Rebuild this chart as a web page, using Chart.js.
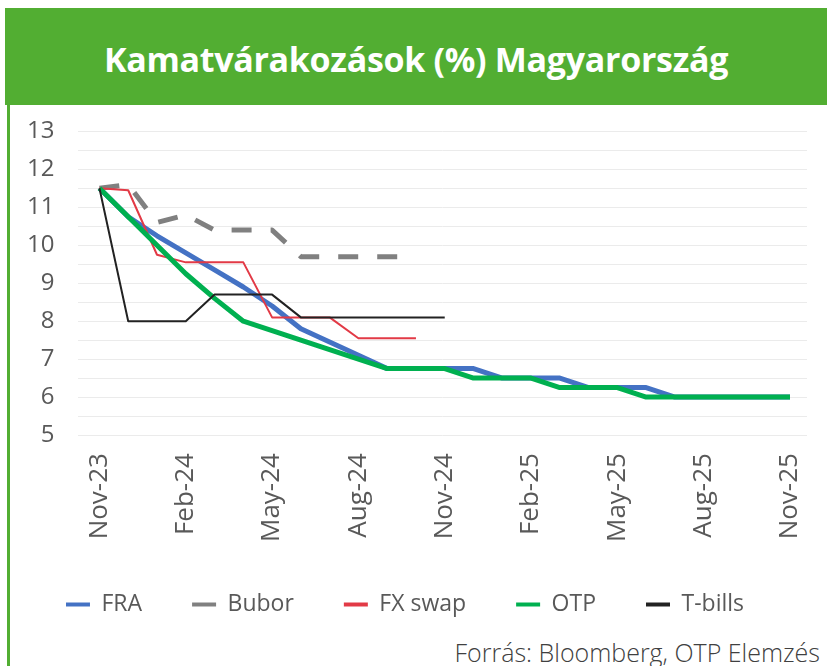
<!DOCTYPE html>
<html>
<head>
<meta charset="utf-8">
<script src="https://cdn.jsdelivr.net/npm/chart.js@4.4.1/dist/chart.umd.min.js"></script>
<style>
  html, body { margin: 0; padding: 0; background: #fff; }
  body { width: 827px; height: 666px; position: relative; overflow: hidden; }
  #fejlec {
    position: absolute; left: 5px; top: 8px; width: 822px; height: 92px; padding-top: 5px;
    background: #52ae32; color: #fff;
    font-family: 'Open Sans', sans-serif; font-weight: 700; font-size: 34px;
    line-height: 92px; text-align: center; letter-spacing: -0.3px;
  }
  #keret { position: absolute; left: 7px; top: 105px; width: 3px; height: 561px; background: #52ae32; }
  #doboz { position: absolute; left: 10px; top: 93px; width: 817px; height: 533px; }
  #forras {
    position: absolute; right: 7px; top: 635px; line-height: 34px;
    font-family: 'Open Sans', sans-serif; font-weight: 300; font-size: 25px; color: #404040;
  }
</style>
</head>
<body>
<div id="fejlec">Kamatvárakozások (%) Magyarország</div>
<div id="keret"></div>
<div id="doboz"><canvas id="grafikon"></canvas></div>
<div id="forras">Forrás: Bloomberg, OTP Elemzés</div>

<script>
const honapok = ['Nov-23', 'Dec-23', 'Jan-24', 'Feb-24', 'Mar-24', 'Apr-24', 'May-24', 'Jun-24',
    'Jul-24', 'Aug-24', 'Sep-24', 'Oct-24', 'Nov-24', 'Dec-24', 'Jan-25', 'Feb-25', 'Mar-25',
    'Apr-25', 'May-25', 'Jun-25', 'Jul-25', 'Aug-25', 'Sep-25', 'Oct-25', 'Nov-25'];

const fra = [11.5, 10.75, 10.25, 9.8, 9.35, 8.9, 8.4, 7.8, 7.45, 7.1, 6.75, 6.75, 6.75,
    6.75, 6.5, 6.5, 6.5, 6.25, 6.25, 6.25, 6.0, 6.0, 6.0, 6.0, 6.0];
const bubor = [11.5, 11.6, 10.6, 10.8, 10.4, 10.4, 10.4, 9.7, 9.7, 9.7, 9.7, 9.7];
const fxSwap = [11.5, 11.45, 9.75, 9.55, 9.55, 9.55, 8.1, 8.1, 8.1, 7.55, 7.55, 7.55];
const otp = [11.5, 10.75, 10.0, 9.25, 8.6, 8.0, 7.75, 7.5, 7.25, 7.0, 6.75, 6.75, 6.75,
    6.5, 6.5, 6.5, 6.25, 6.25, 6.25, 6.0, 6.0, 6.0, 6.0, 6.0, 6.0];
const tBills = [11.5, 8.0, 8.0, 8.0, 8.7, 8.7, 8.7, 8.1, 8.1, 8.1, 8.1, 8.1, 8.1];

const yTengely = [5, 6, 7, 8, 9, 10, 11, 12, 13];

function pontok(sor) {
    return sor.map((v, i) => ({ x: i, y: v }));
}

const betu = { family: "'Open Sans', sans-serif", size: 24 };
const szurke = '#595959';

const ctx = document.getElementById('grafikon').getContext('2d');

new Chart(ctx, {
    type: 'line',
    data: {
        datasets: [
            { label: 'FRA', data: pontok(fra), borderColor: '#4472c4', backgroundColor: '#4472c4', borderWidth: 5, order: 5 },
            { label: 'Bubor', data: pontok(bubor), borderColor: '#808080', backgroundColor: '#808080', borderWidth: 5, borderDash: [20, 19], order: 4 },
            { label: 'FX swap', data: pontok(fxSwap), borderColor: '#e23a46', backgroundColor: '#e23a46', borderWidth: 2, order: 3 },
            { label: 'OTP', data: pontok(otp), borderColor: '#00b050', backgroundColor: '#00b050', borderWidth: 5, order: 2 },
            { label: 'T-bills', data: pontok(tBills), borderColor: '#222222', backgroundColor: '#222222', borderWidth: 2, order: 1 }
        ]
    },
    options: {
        responsive: true,
        maintainAspectRatio: false,
        animation: false,
        elements: { point: { radius: 0 }, line: { tension: 0, borderJoinStyle: 'round' } },
        layout: { padding: { top: 7, right: 20, left: -7, bottom: 0 } },
        scales: {
            x: {
                type: 'linear',
                min: -0.73,
                max: 24.59,
                afterBuildTicks: (sk) => {
                    sk.ticks = honapok.map((h, i) => ({ value: i })).filter(t => t.value % 3 === 0);
                },
                afterFit: (sk) => {
                    sk.height -= 9;
                    sk.paddingRight = 0;
                },
                ticks: {
                    autoSkip: false,
                    minRotation: 90,
                    maxRotation: 90,
                    padding: 10,
                    color: szurke,
                    font: { family: "'Open Sans', sans-serif", size: 26 },
                    callback: (v) => honapok[v]
                },
                grid: { display: false },
                border: { display: false }
            },
            y: {
                min: 5,
                max: 13,
                afterBuildTicks: (sk) => {
                    const t = [];
                    yTengely.forEach((v, i) => {
                        t.push({ value: v });
                        if (i < yTengely.length - 1) t.push({ value: v + 0.5 });
                    });
                    sk.ticks = t;
                },
                ticks: {
                    autoSkip: false,
                    color: szurke,
                    font: betu,
                    padding: 24,
                    callback: (v) => (yTengely.includes(v) ? v : '')
                },
                grid: { color: '#ebebeb', lineWidth: 1, drawTicks: false },
                border: { display: false }
            }
        },
        plugins: {
            legend: {
                position: 'bottom',
                labels: {
                    color: szurke,
                    font: { family: "'Open Sans', sans-serif", size: 23 },
                    boxWidth: 24,
                    boxHeight: 4,
                    padding: 50,
                    generateLabels: (chart) => chart.data.datasets.map((d, i) => ({
                        text: d.label,
                        fillStyle: d.borderColor,
                        strokeStyle: d.borderColor,
                        lineWidth: 0,
                        hidden: false,
                        datasetIndex: i,
                        fontColor: szurke
                    }))
                }
            },
            tooltip: { enabled: false }
        }
    }
});
</script>
</body>
</html>
